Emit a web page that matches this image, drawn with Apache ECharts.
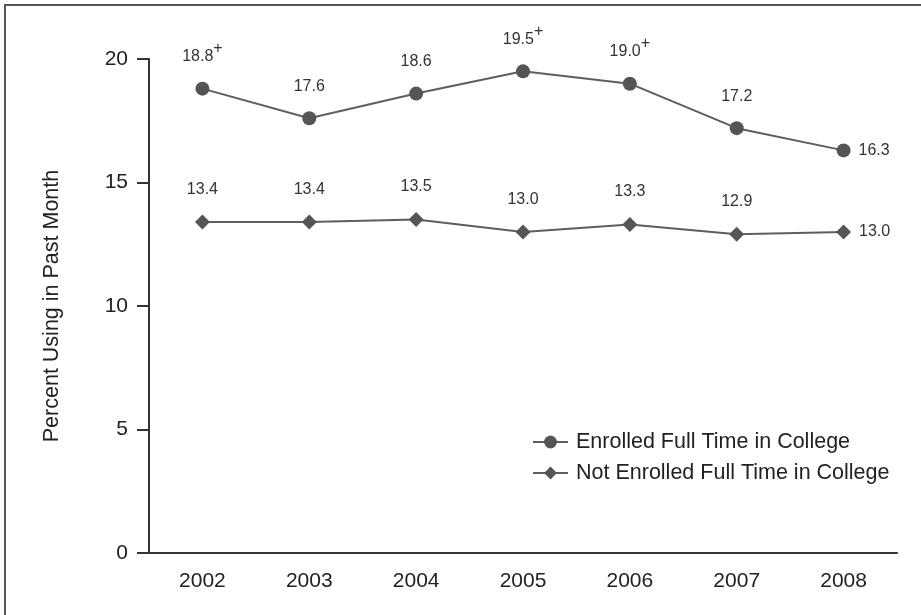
<!DOCTYPE html>
<html>
<head>
<meta charset="utf-8">
<script src="https://cdn.jsdelivr.net/npm/echarts@6/dist/echarts.min.js"></script>
<style>
  html, body { margin: 0; padding: 0; background: #fff; }
  #main { width: 921px; height: 615px; }
</style>
</head>
<body>
<div id="main"></div>
<script>
const years = ['2002', '2003', '2004', '2005', '2006', '2007', '2008'];
const enrolled = [18.8, 17.6, 18.6, 19.5, 19.0, 17.2, 16.3];
const notEnrolled = [13.4, 13.4, 13.5, 13.0, 13.3, 12.9, 13.0];
// years where the enrolled value is marked with a "+"
const enrolledPlus = [true, false, false, true, true, false, false];

const chart = echarts.init(document.getElementById('main'));

const FONT = 'Liberation Sans, Arial, sans-serif';
const labelRich = {
  v: { fontSize: 16, color: '#333', fontFamily: FONT, verticalAlign: 'bottom' },
  sup: { fontSize: 16, color: '#333', verticalAlign: 'top', padding: [0, 0, 8, 0], fontFamily: FONT }
};

function makeData(values, plus) {
  return values.map((v, i) => {
    const last = i === values.length - 1;
    return {
      value: v,
      label: {
        position: last ? 'right' : 'top',
        distance: last ? 8 : 17,
        formatter: '{v|' + v.toFixed(1) + '}' + (plus && plus[i] ? '{sup|+}' : '')
      }
    };
  });
}

const option = {
  animation: false,
  textStyle: { fontFamily: FONT },
  graphic: [
    {
      type: 'polyline',
      shape: { points: [[5, 620], [5, 5], [925, 5]] },
      style: { stroke: '#555', lineWidth: 2, fill: null }
    }
  ],
  grid: { left: 149, right: 24, top: 59, bottom: 62 },
  legend: {
    orient: 'vertical',
    left: 532,
    top: 431,
    padding: 0,
    itemWidth: 35,
    itemHeight: 16,
    itemGap: 9,
    textStyle: { fontSize: 21.5, color: '#222', padding: [0, 0, 0, 3] },
    data: ['Enrolled Full Time in College', 'Not Enrolled Full Time in College']
  },
  xAxis: {
    type: 'category',
    data: years,
    boundaryGap: true,
    axisLine: { lineStyle: { color: '#333', width: 2 } },
    axisTick: { alignWithLabel: true, length: 10, lineStyle: { color: '#333', width: 2 } },
    axisLabel: { fontSize: 21, color: '#222', margin: 18 }
  },
  yAxis: {
    type: 'value',
    min: 0,
    max: 20,
    interval: 5,
    name: 'Percent Using in Past Month',
    nameLocation: 'middle',
    nameGap: 86,
    nameTextStyle: { fontSize: 21.5, color: '#222' },
    splitLine: { show: false },
    axisLine: { show: true, lineStyle: { color: '#333', width: 2 } },
    axisTick: { show: true, length: 12, lineStyle: { color: '#333', width: 2 } },
    axisLabel: { fontSize: 21, color: '#222', margin: 21 }
  },
  series: [
    {
      name: 'Enrolled Full Time in College',
      type: 'line',
      data: makeData(enrolled, enrolledPlus),
      symbol: 'circle',
      symbolSize: 14,
      lineStyle: { color: '#5e5e5e', width: 2 },
      itemStyle: { color: '#555' },
      label: { show: true, rich: labelRich }
    },
    {
      name: 'Not Enrolled Full Time in College',
      type: 'line',
      data: makeData(notEnrolled, null),
      symbol: 'diamond',
      symbolSize: 15,
      lineStyle: { color: '#5e5e5e', width: 2 },
      itemStyle: { color: '#555' },
      label: { show: true, rich: labelRich }
    }
  ]
};

chart.setOption(option);
</script>
</body>
</html>
